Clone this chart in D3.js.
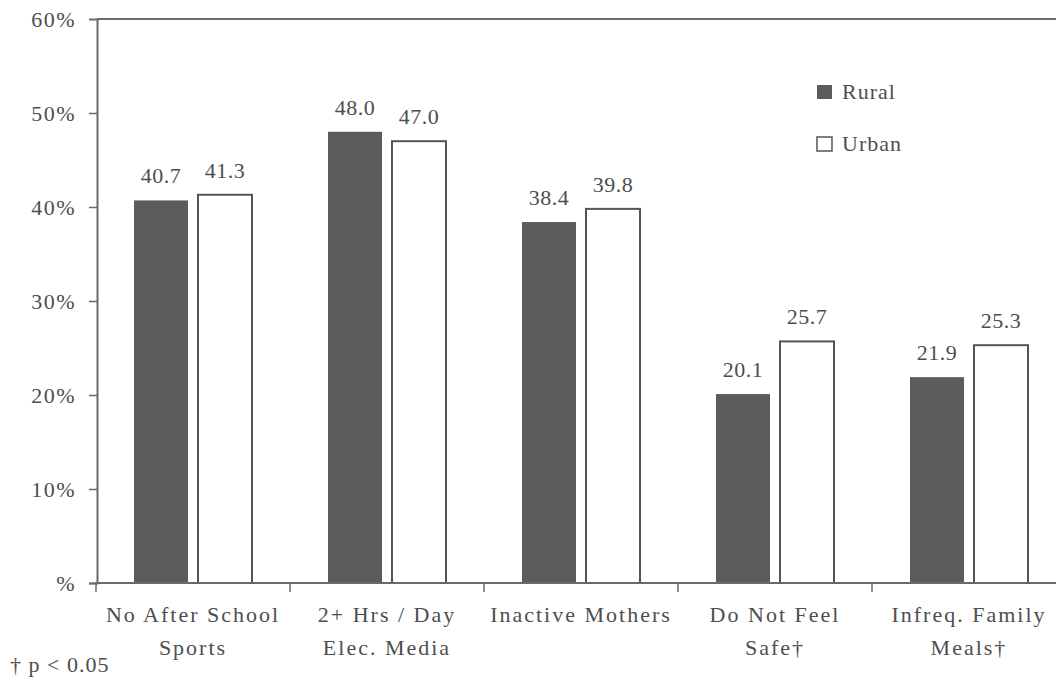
<!DOCTYPE html>
<html>
<head>
<meta charset="utf-8">
<script src="https://cdn.jsdelivr.net/npm/d3@7"></script>
</head>
<body style="margin:0; background:#fff">
<div id="wrapper"></div>
<script>
// data
const categories = [
  ["No After School", "Sports"],
  ["2+ Hrs / Day", "Elec. Media"],
  ["Inactive Mothers"],
  ["Do Not Feel", "Safe\u2020"],
  ["Infreq. Family", "Meals\u2020"]
]
const series = ["Rural", "Urban"]
const rural = [40.7, 48.0, 38.4, 20.1, 21.9]
const urban = [41.3, 47.0, 39.8, 25.7, 25.3]
const yTicks = [0, 10, 20, 30, 40, 50, 60]
const footnote = "\u2020 p < 0.05"

const catKeys = categories.map(c => c.join(" "))
const rows = catKeys.map((k, i) => ({ key: k, Rural: rural[i], Urban: urban[i] }))

const width = 1056
const height = 681
const margin = { top: 19, left: 97, bottom: 98 }
const plotRight = 1066

const fontFam = '"Liberation Serif"'
const textColor = "#4e4e4e"
const lineColor = "#6a6a6a"

const svg = d3.select("#wrapper").append("svg")
  .attr("width", width)
  .attr("height", height)
  .style("display", "block")

// scales
const x0 = d3.scaleBand()
  .domain(catKeys)
  .range([margin.left - 1, plotRight])

const x1 = d3.scaleBand()
  .domain(series)
  .range([0, x0.bandwidth()])
  .paddingInner(0.156)
  .paddingOuter(0.594)

const y = d3.scaleLinear()
  .domain([0, 60])
  .range([height - margin.bottom, margin.top])

const colorScale = d3.scaleOrdinal()
  .domain(series)
  .range(["#5c5c5c", "#ffffff"])

// shared text style
const styleText = sel => sel
  .attr("fill", textColor)
  .style("font-family", fontFam)
  .style("font-size", "22px")

// top border
svg.append("line")
  .attr("x1", margin.left).attr("x2", width + 20)
  .attr("y1", y(60)).attr("y2", y(60))
  .attr("stroke", lineColor).attr("stroke-width", 2)

// bars
const groups = svg.selectAll("g.group")
  .data(rows)
  .join("g")
    .attr("class", "group")
    .attr("transform", d => `translate(${x0(d.key)},0)`)

groups.selectAll("rect")
  .data(d => series.map(s => ({ s, v: d[s] })))
  .join("rect")
    .attr("x", d => x1(d.s))
    .attr("y", d => y(d.v))
    .attr("width", x1.bandwidth())
    .attr("height", d => y(0) - y(d.v))
    .attr("fill", d => colorScale(d.s))
    .attr("stroke", d => d.s === "Urban" ? "#555" : "none")
    .attr("stroke-width", 2)

groups.selectAll("text.val")
  .data(d => series.map(s => ({ s, v: d[s] })))
  .join("text")
    .attr("class", "val")
    .attr("x", d => x1(d.s) + x1.bandwidth() / 2)
    .attr("y", d => y(d.v) - 17)
    .attr("text-anchor", "middle")
    .call(styleText)
    .style("letter-spacing", "0.5px")
    .text(d => d.v.toFixed(1))

// y axis
const yAxis = svg.append("g")
  .attr("transform", `translate(${margin.left},0)`)
  .call(d3.axisLeft(y)
    .tickValues(yTicks)
    .tickSize(8)
    .tickPadding(13)
    .tickFormat(d => d === 0 ? "%" : d + "%"))
yAxis.attr("font-family", null).attr("font-size", null)
yAxis.select(".domain").attr("stroke", lineColor).attr("stroke-width", 2)
yAxis.selectAll(".tick line")
  .attr("stroke", lineColor).attr("stroke-width", 1.5)
  .attr("display", d => d === 60 ? "none" : null)
yAxis.selectAll(".tick text").call(styleText).style("letter-spacing", "1.5px")

// x axis baseline
svg.append("line")
  .attr("x1", margin.left - 2).attr("x2", width + 20)
  .attr("y1", y(0)).attr("y2", y(0))
  .attr("stroke", lineColor).attr("stroke-width", 2)

// x ticks at band boundaries
const bounds = catKeys.map(k => x0(k)).concat([x0(catKeys[catKeys.length - 1]) + x0.bandwidth()])
svg.selectAll("line.xtick")
  .data(bounds)
  .join("line")
    .attr("class", "xtick")
    .attr("x1", d => d).attr("x2", d => d)
    .attr("y1", y(0)).attr("y2", y(0) + 9)
    .attr("stroke", lineColor).attr("stroke-width", 1.5)

// category labels
const catLabels = svg.selectAll("text.cat")
  .data(categories)
  .join("text")
    .attr("class", "cat")
    .attr("text-anchor", "middle")
    .call(styleText)
    .style("letter-spacing", "2px")

catLabels.selectAll("tspan")
  .data((d, i) => d.map(line => ({ line, key: catKeys[i] })))
  .join("tspan")
    .attr("x", d => x0(d.key) + x0.bandwidth() / 2)
    .attr("y", (d, j) => y(0) + 39 + j * 33)
    .text(d => d.line)

// legend
const legend = svg.append("g")
  .attr("transform", "translate(817,85)")
series.forEach((s, i) => {
  const g = legend.append("g").attr("transform", `translate(0,${i * 52})`)
  g.append("rect")
    .attr("width", 15).attr("height", 14)
    .attr("fill", colorScale(s))
    .attr("stroke", i === 1 ? "#555" : "none")
    .attr("stroke-width", 1.5)
  g.append("text")
    .attr("x", 25).attr("y", 14)
    .call(styleText)
    .style("letter-spacing", "1px")
    .text(s)
})

// footnote
svg.append("text")
  .attr("x", 10).attr("y", 672)
  .call(styleText)
  .style("letter-spacing", "1px")
  .text(footnote)
</script>
</body>
</html>
